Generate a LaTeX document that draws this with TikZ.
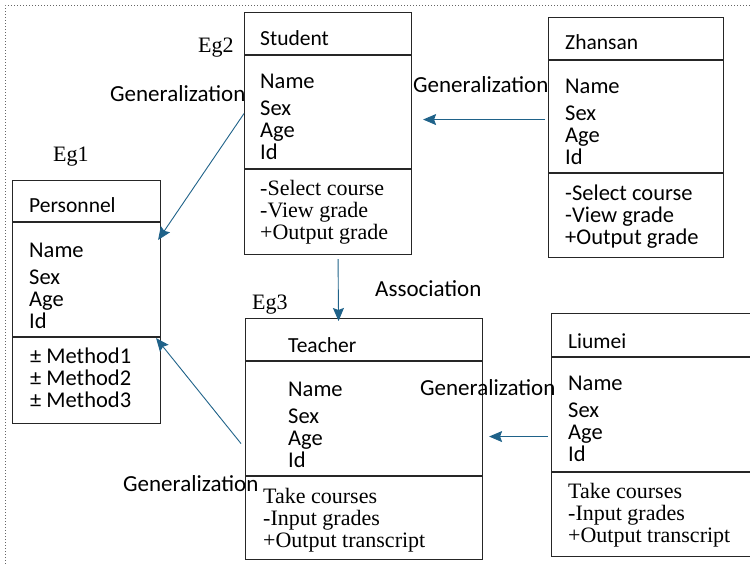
\documentclass[tikz,border=0pt]{standalone}
\usepackage{fontspec}
\setmainfont{Liberation Serif}
\setsansfont{Carlito}
\usetikzlibrary{arrows.meta}
\definecolor{arrowblue}{RGB}{31,98,137}

\begin{document}
\begin{tikzpicture}[x=1pt, y=-1pt,
		classbox/.style={draw=black!85, line width=1.1pt, inner sep=0pt, anchor=north west},
		divider/.style={draw=black!85, line width=1.1pt},
		title/.style={font=\sffamily\fontsize{21.5}{22}\selectfont, inner sep=0pt, anchor=base west},
		% lists sit on the baseline of their last line
		sanslist/.style={font=\sffamily\fontsize{22.5}{22}\selectfont, inner sep=0pt, anchor=base west, align=left},
		seriflist/.style={font=\fontsize{22}{22}\selectfont, inner sep=0pt, anchor=base west, align=left},
		relation/.style={font=\sffamily\fontsize{23}{23}\selectfont, inner sep=0pt, anchor=base west},
		tag/.style={font=\fontsize{22}{22}\selectfont, inner sep=0pt, anchor=base west},
		gen/.style={draw=arrowblue, line width=0.9pt, -{Stealth[length=13pt, width=11pt, inset=2pt]}}
		]
		\useasboundingbox (0,0) rectangle (750,564);
		\clip (0,0) rectangle (750,564);
		\draw[dotted, line width=1pt, black!60] (5,564) -- (5,6) -- (750,6);

		% class boxes
		\node (personnel) at (12,180) [classbox, minimum width=148pt, minimum height=243pt] {};
		\node (student) at (244,12) [classbox, minimum width=167pt, minimum height=242pt] {};
		\node (zhansan) at (548,17) [classbox, minimum width=175pt, minimum height=240pt] {};
		\node (teacher) at (245,318) [classbox, minimum width=237pt, minimum height=241pt] {};
		\node (liumei) at (551,313) [classbox, minimum width=220pt, minimum height=243pt] {};

		\draw[divider] ([yshift=-42pt]personnel.north west) -- ([yshift=-42pt]personnel.north east);
		\draw[divider] ([yshift=-157pt]personnel.north west) -- ([yshift=-157pt]personnel.north east);
		\draw[divider] ([yshift=-43pt]student.north west) -- ([yshift=-43pt]student.north east);
		\draw[divider] ([yshift=-157pt]student.north west) -- ([yshift=-157pt]student.north east);
		\draw[divider] ([yshift=-43pt]zhansan.north west) -- ([yshift=-43pt]zhansan.north east);
		\draw[divider] ([yshift=-156pt]zhansan.north west) -- ([yshift=-156pt]zhansan.north east);
		\draw[divider] ([yshift=-43pt]teacher.north west) -- ([yshift=-43pt]teacher.north east);
		\draw[divider] ([yshift=-158pt]teacher.north west) -- ([yshift=-158pt]teacher.north east);
		\draw[divider] ([yshift=-44pt]liumei.north west) -- ([yshift=-44pt]liumei.north east);
		\draw[divider] ([yshift=-159pt]liumei.north west) -- ([yshift=-159pt]liumei.north east);

		% class texts
		\node (personnel title) at (29,213) [title] {Personnel};
		\node (personnel attr) at (29,328) [sanslist] {Name\\[5pt]Sex\\Age\\Id};
		\node (personnel ops) at (30,407) [sanslist] {±\hspace{5pt}Method1\\±\hspace{5pt}Method2\\±\hspace{5pt}Method3};

		\node (student title) at (260,46) [title] {Student};
		\node (student attr) at (260,160) [sanslist] {Name\\[5pt]Sex\\Age\\Id};
		\node (student ops) at (260,240) [seriflist] {-Select course\\-View grade\\+Output grade};

		\node (zhansan title) at (565,50) [title] {Zhansan};
		\node (zhansan attr) at (565,165) [sanslist] {Name\\[5pt]Sex\\Age\\Id};
		\node (zhansan ops) at (565,245) [sanslist] {-Select course\\-View grade\\+Output grade};

		\node (teacher title) at (288,352) [title] {Teacher};
		\node (teacher attr) at (288,467) [sanslist] {Name\\[5pt]Sex\\Age\\Id};
		\node (teacher ops) at (263,547) [seriflist] {Take courses\\-Input grades\\+Output transcript};

		\node (liumei title) at (568,348) [title] {Liumei};
		\node (liumei attr) at (568,461) [sanslist] {Name\\[5pt]Sex\\Age\\Id};
		\node (liumei ops) at (568,542) [seriflist] {Take courses\\-Input grades\\+Output transcript};

		% tags and relation labels
		\node (eg1) at (53,162) [tag] {Eg1};
		\node (eg2) at (198,53) [tag] {Eg2};
		\node (eg3) at (252,309) [tag] {Eg3};
		\node (gen student) at (110,102) [relation] {Generalization};
		\node (gen zhansan) at (413,93) [relation] {Generalization};
		\node (assoc) at (375,297) [relation] {Association};
		\node (gen liumei) at (420,395) [relation] {Generalization};
		\node (gen teacher) at (123,491) [relation] {Generalization};

		% relations
		\draw[gen] ([yshift=20pt]student.west) -- ([xshift=-3pt, yshift=-60pt]personnel.north east);
		\draw[gen] ([xshift=-3pt, yshift=18pt]zhansan.west) -- ([xshift=11pt, yshift=14pt]student.east);
		\draw[gen] ([xshift=10pt, yshift=-4pt]student.south) -- ([xshift=-25.5pt, yshift=-3pt]teacher.north);
		\draw[gen] ([xshift=-4pt, yshift=-4.5pt]teacher.west) -- ([xshift=-5pt, yshift=86pt]personnel.south east);
		\draw[gen] ([xshift=-3pt, yshift=-1.5pt]liumei.west) -- ([xshift=6pt, yshift=2.5pt]teacher.east);
	\end{tikzpicture}
\end{document}
